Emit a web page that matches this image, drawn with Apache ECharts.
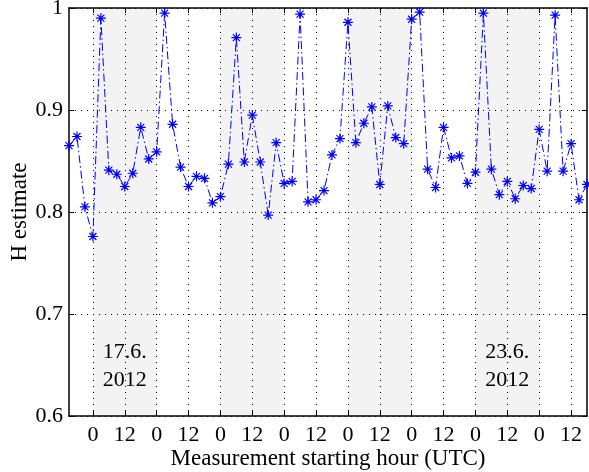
<!DOCTYPE html>
<html>
<head>
<meta charset="utf-8">
<script src="https://cdn.jsdelivr.net/npm/echarts@6/dist/echarts.min.js"></script>
<style>
  html, body { margin: 0; padding: 0; background: #fff; }
  #chart { width: 589px; height: 472px; }
</style>
</head>
<body>
<div id="chart"></div>
<script>
// Measurement starting hour, counted from midnight (UTC) of 17.6.2012
const hours = [
  -9, -6, -3, 0, 3, 6, 9, 12, 15, 18, 21, 24, 27, 30, 33, 36, 39, 42, 45, 48,
  51, 54, 57, 60, 63, 66, 69, 72, 75, 78, 81, 84, 87, 90, 93, 96, 99, 102, 105, 108,
  111, 114, 117, 120, 123, 126, 129, 132, 135, 138, 141, 144, 147, 150, 153, 156, 159, 162, 165, 168,
  171, 174, 177, 180, 183, 186
];

// Estimated Hurst parameter for each measurement
const hEstimate = [
  0.865, 0.874, 0.805, 0.776, 0.990, 0.841, 0.837, 0.825, 0.838, 0.883,
  0.852, 0.859, 0.995, 0.886, 0.844, 0.825, 0.835, 0.833, 0.809, 0.815,
  0.847, 0.971, 0.849, 0.895, 0.849, 0.797, 0.868, 0.828, 0.830, 0.994,
  0.810, 0.812, 0.821, 0.856, 0.872, 0.986, 0.868, 0.887, 0.903, 0.827,
  0.904, 0.873, 0.867, 0.989, 0.996, 0.842, 0.824, 0.883, 0.853, 0.855,
  0.828, 0.839, 0.995, 0.842, 0.817, 0.830, 0.813, 0.826, 0.823, 0.881,
  0.840, 0.993, 0.840, 0.867, 0.812, 0.827
];

// Tick positions on the hour axis (labelled as hour of day)
const hourTicks = [0, 12, 24, 36, 48, 60, 72, 84, 96, 108, 120, 132, 144, 156, 168, 180];

// Alternate days shaded: [start hour, end hour]
const shadedDays = [[0, 24], [48, 72], [96, 120], [144, 168]];

// Date annotations placed at midday of the day they name
const dateLabelHours = [12, 156];
const dateLabelTexts = ['17.6.\n2012', '23.6.\n2012'];

const FONT = "'Liberation Serif', 'Times New Roman', serif";
const BLUE = '#0000ff';
const X_MIN = -9, X_MAX = 186;
const DATE_LABEL_Y = 0.649;

// Asterisk marker: plus and cross overlaid
const asterisk = 'path://M5,0L5,10M0,5L10,5M1.5,1.5L8.5,8.5M1.5,8.5L8.5,1.5';

const chart = echarts.init(document.getElementById('chart'), null, { renderer: 'canvas' });

const gridDots = { show: true, lineStyle: { color: '#000', width: 1, type: [1, 5] } };

chart.setOption({
  animation: false,
  backgroundColor: '#fff',
  grid: { left: 69, right: 2, top: 8, bottom: 56, containLabel: false, outerBoundsMode: 'none' },
  xAxis: [
    {
      type: 'value', min: X_MIN, max: X_MAX, position: 'bottom',
      name: 'Measurement starting hour (UTC)', nameLocation: 'middle', nameGap: 31,
      nameMoveOverlap: false,
      nameTextStyle: { fontFamily: FONT, fontSize: 23, color: '#000' },
      axisLine: { show: true, onZero: false, lineStyle: { color: '#000', width: 1.5 } },
      axisTick: { show: true, inside: true, length: 5, customValues: hourTicks, lineStyle: { color: '#000' } },
      axisLabel: { customValues: hourTicks, formatter: v => String(((v % 24) + 24) % 24),
                   fontFamily: FONT, fontSize: 22, color: '#000', margin: 8 },
      splitLine: gridDots
    },
    {
      type: 'value', min: X_MIN, max: X_MAX, position: 'top',
      axisLine: { show: true, onZero: false, lineStyle: { color: '#000', width: 1.5 } },
      axisTick: { show: true, inside: true, length: 5, customValues: hourTicks, lineStyle: { color: '#000' } },
      axisLabel: { show: false },
      splitLine: { show: false }
    }
  ],
  yAxis: [
    {
      type: 'value', min: 0.6, max: 1, interval: 0.1, position: 'left',
      name: 'H estimate', nameLocation: 'middle', nameGap: 38,
      nameMoveOverlap: false,
      nameTextStyle: { fontFamily: FONT, fontSize: 23, color: '#000' },
      axisLine: { show: true, onZero: false, lineStyle: { color: '#000', width: 1.5 } },
      axisTick: { show: true, inside: true, length: 5, lineStyle: { color: '#000' } },
      axisLabel: { formatter: v => (Math.abs(v - 1) < 1e-9 ? '1' : v.toFixed(1)),
                   fontFamily: FONT, fontSize: 22, color: '#000', margin: 6 },
      splitLine: gridDots
    },
    {
      type: 'value', min: 0.6, max: 1, interval: 0.1, position: 'right',
      axisLine: { show: true, onZero: false, lineStyle: { color: '#000', width: 1.5 } },
      axisTick: { show: true, inside: true, length: 5, lineStyle: { color: '#000' } },
      axisLabel: { show: false },
      splitLine: { show: false }
    }
  ],
  series: [
    {
      // shaded day bands, kept beneath the grid lines
      type: 'line', data: [], z: -1, silent: true,
      markArea: {
        silent: true, z: -1,
        itemStyle: { color: '#f3f3f3' },
        data: shadedDays.map(d => [{ xAxis: d[0] }, { xAxis: d[1] }])
      }
    },
    {
      type: 'line',
      data: hours.map((h, i) => [h, hEstimate[i]]),
      symbol: asterisk, symbolSize: 10,
      showAllSymbol: true,
      itemStyle: { color: 'none', borderColor: BLUE, borderWidth: 1.2 },
      lineStyle: { color: BLUE, width: 1, type: [8, 3, 1.5, 3] },
      z: 3
    },
    {
      // date annotations drawn as plain text at data coordinates
      type: 'custom', silent: true, clip: false,
      data: dateLabelHours.map((h, i) => [h, DATE_LABEL_Y, i]),
      renderItem: (params, api) => {
        const p = api.coord([api.value(0), api.value(1)]);
        return {
          type: 'text', x: p[0], y: p[1],
          style: {
            text: dateLabelTexts[api.value(2)],
            font: '22px ' + FONT, fill: '#000',
            align: 'center', verticalAlign: 'middle', lineHeight: 28
          }
        };
      }
    }
  ]
});
</script>
</body>
</html>
